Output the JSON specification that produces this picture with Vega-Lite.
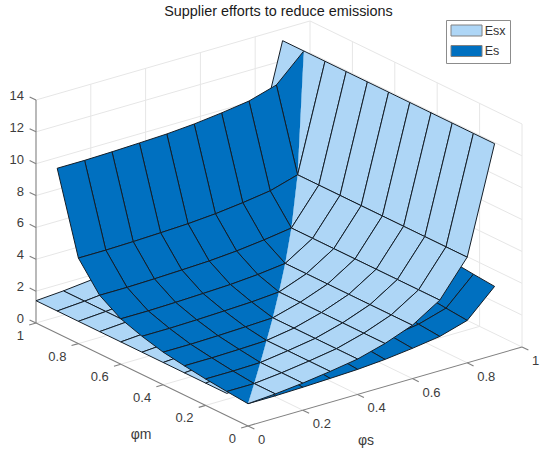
{"$schema":"https://vega.github.io/schema/vega-lite/v6.json","width":550,"height":455,"padding":0,"autosize":{"type":"none"},"background":"white","view":{"stroke":null},"title":{"text":"Supplier efforts to reduce emissions","anchor":"middle","frame":"group","offset":0,"dy":30,"dx":3.5,"baseline":"alphabetic","font":"Liberation Sans","fontSize":14.4,"fontWeight":"normal","color":"#1a1a1a"},"config":{"text":{"font":"Liberation Sans","fontSize":13,"color":"#3c3c3c"}},"encoding":{"x":{"field":"px","type":"quantitative","axis":null,"scale":{"domain":[0,550],"range":[0,550],"nice":false,"zero":false}},"y":{"field":"py","type":"quantitative","axis":null,"scale":{"domain":[0,455],"range":[0,455],"nice":false,"zero":false}}},"datasets":{"lines":[{"k":"g","s":[0,1],"m":[1,1],"z":[2,2]},{"k":"g","s":[0,1],"m":[1,1],"z":[4,4]},{"k":"g","s":[0,1],"m":[1,1],"z":[6,6]},{"k":"g","s":[0,1],"m":[1,1],"z":[8,8]},{"k":"g","s":[0,1],"m":[1,1],"z":[10,10]},{"k":"g","s":[0,1],"m":[1,1],"z":[12,12]},{"k":"g","s":[0,1],"m":[1,1],"z":[14,14]},{"k":"g","s":[0,1],"m":[1,1],"z":[0,0]},{"k":"g","s":[1,1],"m":[0,1],"z":[0,0]},{"k":"g","s":[1,1],"m":[0,1],"z":[2,2]},{"k":"g","s":[1,1],"m":[0,1],"z":[4,4]},{"k":"g","s":[1,1],"m":[0,1],"z":[6,6]},{"k":"g","s":[1,1],"m":[0,1],"z":[8,8]},{"k":"g","s":[1,1],"m":[0,1],"z":[10,10]},{"k":"g","s":[1,1],"m":[0,1],"z":[12,12]},{"k":"g","s":[1,1],"m":[0,1],"z":[14,14]},{"k":"g","s":[0.2,0.2],"m":[1,1],"z":[0,14]},{"k":"g","s":[0.4,0.4],"m":[1,1],"z":[0,14]},{"k":"g","s":[0.6,0.6],"m":[1,1],"z":[0,14]},{"k":"g","s":[0.8,0.8],"m":[1,1],"z":[0,14]},{"k":"g","s":[1,1],"m":[1,1],"z":[0,14]},{"k":"g","s":[1,1],"m":[0.8,0.8],"z":[0,14]},{"k":"g","s":[1,1],"m":[0.6,0.6],"z":[0,14]},{"k":"g","s":[1,1],"m":[0.4,0.4],"z":[0,14]},{"k":"g","s":[1,1],"m":[0.2,0.2],"z":[0,14]},{"k":"g","s":[1,1],"m":[0,0],"z":[0,14]},{"k":"g","s":[0.2,0.2],"m":[0,1],"z":[0,0]},{"k":"g","s":[0.4,0.4],"m":[0,1],"z":[0,0]},{"k":"g","s":[0.6,0.6],"m":[0,1],"z":[0,0]},{"k":"g","s":[0.8,0.8],"m":[0,1],"z":[0,0]},{"k":"g","s":[0,1],"m":[0.2,0.2],"z":[0,0]},{"k":"g","s":[0,1],"m":[0.4,0.4],"z":[0,0]},{"k":"g","s":[0,1],"m":[0.6,0.6],"z":[0,0]},{"k":"g","s":[0,1],"m":[0.8,0.8],"z":[0,0]},{"k":"a","s":[0,0],"m":[1,1],"z":[0,14]},{"k":"a","s":[0,0],"m":[0,1],"z":[0,0]},{"k":"a","s":[0,1],"m":[0,0],"z":[0,0]},{"k":"a","s":[0,0],"m":[1,1.03],"z":[0,0]},{"k":"a","s":[0,0],"m":[1,1.03],"z":[2,2]},{"k":"a","s":[0,0],"m":[1,1.03],"z":[4,4]},{"k":"a","s":[0,0],"m":[1,1.03],"z":[6,6]},{"k":"a","s":[0,0],"m":[1,1.03],"z":[8,8]},{"k":"a","s":[0,0],"m":[1,1.03],"z":[10,10]},{"k":"a","s":[0,0],"m":[1,1.03],"z":[12,12]},{"k":"a","s":[0,0],"m":[1,1.03],"z":[14,14]},{"k":"a","s":[0,-0.025],"m":[0,0],"z":[0,0]},{"k":"a","s":[0,-0.025],"m":[0.2,0.2],"z":[0,0]},{"k":"a","s":[0,-0.025],"m":[0.4,0.4],"z":[0,0]},{"k":"a","s":[0,-0.025],"m":[0.6,0.6],"z":[0,0]},{"k":"a","s":[0,-0.025],"m":[0.8,0.8],"z":[0,0]},{"k":"a","s":[0,-0.025],"m":[1,1],"z":[0,0]},{"k":"a","s":[0,0],"m":[0,-0.03],"z":[0,0]},{"k":"a","s":[0.2,0.2],"m":[0,-0.03],"z":[0,0]},{"k":"a","s":[0.4,0.4],"m":[0,-0.03],"z":[0,0]},{"k":"a","s":[0.6,0.6],"m":[0,-0.03],"z":[0,0]},{"k":"a","s":[0.8,0.8],"m":[0,-0.03],"z":[0,0]},{"k":"a","s":[1,1],"m":[0,-0.03],"z":[0,0]}],"labels":[{"k":"z","t":"0","s":0,"m":1,"z":0},{"k":"z","t":"2","s":0,"m":1,"z":2},{"k":"z","t":"4","s":0,"m":1,"z":4},{"k":"z","t":"6","s":0,"m":1,"z":6},{"k":"z","t":"8","s":0,"m":1,"z":8},{"k":"z","t":"10","s":0,"m":1,"z":10},{"k":"z","t":"12","s":0,"m":1,"z":12},{"k":"z","t":"14","s":0,"m":1,"z":14},{"k":"m","t":"0","s":0,"m":0,"z":0},{"k":"m","t":"0.2","s":0,"m":0.2,"z":0},{"k":"m","t":"0.4","s":0,"m":0.4,"z":0},{"k":"m","t":"0.6","s":0,"m":0.6,"z":0},{"k":"m","t":"0.8","s":0,"m":0.8,"z":0},{"k":"m","t":"1","s":0,"m":1,"z":0},{"k":"s","t":"0","s":0,"m":0,"z":0},{"k":"s","t":"0.2","s":0.2,"m":0,"z":0},{"k":"s","t":"0.4","s":0.4,"m":0,"z":0},{"k":"s","t":"0.6","s":0.6,"m":0,"z":0},{"k":"s","t":"0.8","s":0.8,"m":0,"z":0},{"k":"s","t":"1","s":1,"m":0,"z":0},{"k":"tm","t":"φm","s":0,"m":0.5,"z":0},{"k":"ts","t":"φs","s":0.5,"m":0,"z":0}],"cells":[
{"f":"Esx","s":0.8,"m":0.9,"z":[6.63,13.26,13.26,6.63]},
{"f":"Es","s":0.8,"m":0.8,"t":"d","z":[6.63,11.62,13.26]},{"f":"Es","s":0.8,"m":0.8,"t":"l","z":[6.63,8.27,13.26]},{"f":"Esx","s":0.8,"m":0.8,"t":"l","z":[6.63,13.26,13.26]},{"f":"Esx","s":0.7,"m":0.9,"z":[4.43,6.63,6.63,4.43]},
{"f":"Es","s":0.8,"m":0.7,"z":[4.94,6.58,8.27,6.63]},{"f":"Esx","s":0.8,"m":0.7,"z":[6.63,13.26,13.26,6.63]},{"f":"Esx","s":0.7,"m":0.8,"z":[4.43,6.63,6.63,4.43]},{"f":"Es","s":0.7,"m":0.8,"z":[6.12,6.63,11.62,11.11]},{"f":"Esx","s":0.6,"m":0.9,"z":[3.35,4.43,4.43,3.35]},
{"f":"Es","s":0.8,"m":0.6,"z":[4.11,5.75,6.58,4.94]},{"f":"Esx","s":0.8,"m":0.6,"z":[6.63,13.26,13.26,6.63]},{"f":"Es","s":0.7,"m":0.7,"t":"d","z":[4.43,6.12,6.63]},{"f":"Es","s":0.7,"m":0.7,"t":"l","z":[4.43,4.94,6.63]},{"f":"Esx","s":0.7,"m":0.7,"t":"l","z":[4.43,6.63,6.63]},{"f":"Esx","s":0.6,"m":0.8,"z":[3.35,4.43,4.43,3.35]},{"f":"Es","s":0.6,"m":0.8,"z":[5.87,6.12,11.11,10.86]},{"f":"Esx","s":0.5,"m":0.9,"z":[2.7,3.35,3.35,2.7]},
{"f":"Es","s":0.8,"m":0.5,"z":[3.66,5.3,5.75,4.11]},{"f":"Esx","s":0.8,"m":0.5,"z":[6.63,13.26,13.26,6.63]},{"f":"Es","s":0.7,"m":0.6,"z":[3.6,4.11,4.94,4.43]},{"f":"Esx","s":0.7,"m":0.6,"z":[4.43,6.63,6.63,4.43]},{"f":"Esx","s":0.6,"m":0.7,"z":[3.35,4.43,4.43,3.35]},{"f":"Es","s":0.6,"m":0.7,"z":[4.18,4.43,6.12,5.87]},{"f":"Esx","s":0.5,"m":0.8,"z":[2.7,3.35,3.35,2.7]},{"f":"Es","s":0.5,"m":0.8,"z":[5.67,5.87,10.86,10.66]},{"f":"Esx","s":0.4,"m":0.9,"z":[2.22,2.7,2.7,2.22]},
{"f":"Es","s":0.8,"m":0.4,"z":[3.31,4.95,5.3,3.66]},{"f":"Esx","s":0.8,"m":0.4,"z":[6.63,13.26,13.26,6.63]},{"f":"Es","s":0.7,"m":0.5,"z":[3.15,3.66,4.11,3.6]},{"f":"Esx","s":0.7,"m":0.5,"z":[4.43,6.63,6.63,4.43]},{"f":"Es","s":0.6,"m":0.6,"t":"d","z":[3.35,4.18,4.43]},{"f":"Es","s":0.6,"m":0.6,"t":"l","z":[3.35,3.6,4.43]},{"f":"Esx","s":0.6,"m":0.6,"t":"l","z":[3.35,4.43,4.43]},{"f":"Esx","s":0.5,"m":0.7,"z":[2.7,3.35,3.35,2.7]},{"f":"Es","s":0.5,"m":0.7,"z":[3.98,4.18,5.87,5.67]},{"f":"Esx","s":0.4,"m":0.8,"z":[2.22,2.7,2.7,2.22]},{"f":"Es","s":0.4,"m":0.8,"z":[5.54,5.67,10.66,10.53]},{"f":"Esx","s":0.3,"m":0.9,"z":[1.94,2.22,2.22,1.94]},
{"f":"Es","s":0.8,"m":0.3,"z":[3.1,4.74,4.95,3.31]},{"f":"Esx","s":0.8,"m":0.3,"z":[6.63,13.26,13.26,6.63]},{"f":"Es","s":0.7,"m":0.4,"z":[2.8,3.31,3.66,3.15]},{"f":"Esx","s":0.7,"m":0.4,"z":[4.43,6.63,6.63,4.43]},{"f":"Es","s":0.6,"m":0.5,"z":[2.9,3.15,3.6,3.35]},{"f":"Esx","s":0.6,"m":0.5,"z":[3.35,4.43,4.43,3.35]},{"f":"Esx","s":0.5,"m":0.6,"z":[2.7,3.35,3.35,2.7]},{"f":"Es","s":0.5,"m":0.6,"z":[3.15,3.35,4.18,3.98]},{"f":"Esx","s":0.4,"m":0.7,"z":[2.22,2.7,2.7,2.22]},{"f":"Es","s":0.4,"m":0.7,"z":[3.85,3.98,5.67,5.54]},{"f":"Esx","s":0.3,"m":0.8,"z":[1.94,2.22,2.22,1.94]},{"f":"Es","s":0.3,"m":0.8,"z":[5.47,5.54,10.53,10.46]},{"f":"Esx","s":0.2,"m":0.9,"z":[1.7,1.94,1.94,1.7]},
{"f":"Es","s":0.8,"m":0.2,"z":[2.92,4.56,4.74,3.1]},{"f":"Esx","s":0.8,"m":0.2,"z":[6.63,13.26,13.26,6.63]},{"f":"Es","s":0.7,"m":0.3,"z":[2.59,3.1,3.31,2.8]},{"f":"Esx","s":0.7,"m":0.3,"z":[4.43,6.63,6.63,4.43]},{"f":"Es","s":0.6,"m":0.4,"z":[2.55,2.8,3.15,2.9]},{"f":"Esx","s":0.6,"m":0.4,"z":[3.35,4.43,4.43,3.35]},{"f":"Es","s":0.5,"m":0.5,"t":"d","z":[2.7,3.15,3.35]},{"f":"Es","s":0.5,"m":0.5,"t":"l","z":[2.7,2.9,3.35]},{"f":"Esx","s":0.5,"m":0.5,"t":"l","z":[2.7,3.35,3.35]},{"f":"Esx","s":0.4,"m":0.6,"z":[2.22,2.7,2.7,2.22]},{"f":"Es","s":0.4,"m":0.6,"z":[3.02,3.15,3.98,3.85]},{"f":"Esx","s":0.3,"m":0.7,"z":[1.94,2.22,2.22,1.94]},{"f":"Es","s":0.3,"m":0.7,"z":[3.78,3.85,5.54,5.47]},{"f":"Esx","s":0.2,"m":0.8,"z":[1.7,1.94,1.94,1.7]},{"f":"Es","s":0.2,"m":0.8,"z":[5.41,5.47,10.46,10.4]},{"f":"Esx","s":0.1,"m":0.9,"z":[1.52,1.7,1.7,1.52]},
{"f":"Es","s":0.8,"m":0.1,"z":[2.78,4.42,4.56,2.92]},{"f":"Esx","s":0.8,"m":0.1,"z":[6.63,13.26,13.26,6.63]},{"f":"Es","s":0.7,"m":0.2,"z":[2.41,2.92,3.1,2.59]},{"f":"Esx","s":0.7,"m":0.2,"z":[4.43,6.63,6.63,4.43]},{"f":"Es","s":0.6,"m":0.3,"z":[2.34,2.59,2.8,2.55]},{"f":"Esx","s":0.6,"m":0.3,"z":[3.35,4.43,4.43,3.35]},{"f":"Es","s":0.5,"m":0.4,"z":[2.35,2.55,2.9,2.7]},{"f":"Esx","s":0.5,"m":0.4,"z":[2.7,3.35,3.35,2.7]},{"f":"Esx","s":0.4,"m":0.5,"z":[2.22,2.7,2.7,2.22]},{"f":"Es","s":0.4,"m":0.5,"z":[2.57,2.7,3.15,3.02]},{"f":"Esx","s":0.3,"m":0.6,"z":[1.94,2.22,2.22,1.94]},{"f":"Es","s":0.3,"m":0.6,"z":[2.95,3.02,3.85,3.78]},{"f":"Esx","s":0.2,"m":0.7,"z":[1.7,1.94,1.94,1.7]},{"f":"Es","s":0.2,"m":0.7,"z":[3.72,3.78,5.47,5.41]},{"f":"Esx","s":0.1,"m":0.8,"z":[1.52,1.7,1.7,1.52]},{"f":"Es","s":0.1,"m":0.8,"z":[5.37,5.41,10.4,10.36]},{"f":"Esx","s":0,"m":0.9,"z":[1.4,1.52,1.52,1.4]},
{"f":"Es","s":0.8,"m":0,"z":[2.66,4.3,4.42,2.78]},{"f":"Esx","s":0.8,"m":0,"z":[6.63,13.26,13.26,6.63]},{"f":"Es","s":0.7,"m":0.1,"z":[2.27,2.78,2.92,2.41]},{"f":"Esx","s":0.7,"m":0.1,"z":[4.43,6.63,6.63,4.43]},{"f":"Es","s":0.6,"m":0.2,"z":[2.16,2.41,2.59,2.34]},{"f":"Esx","s":0.6,"m":0.2,"z":[3.35,4.43,4.43,3.35]},{"f":"Es","s":0.5,"m":0.3,"z":[2.14,2.34,2.55,2.35]},{"f":"Esx","s":0.5,"m":0.3,"z":[2.7,3.35,3.35,2.7]},{"f":"Es","s":0.4,"m":0.4,"t":"d","z":[2.22,2.57,2.7]},{"f":"Es","s":0.4,"m":0.4,"t":"l","z":[2.22,2.35,2.7]},{"f":"Esx","s":0.4,"m":0.4,"t":"l","z":[2.22,2.7,2.7]},{"f":"Esx","s":0.3,"m":0.5,"z":[1.94,2.22,2.22,1.94]},{"f":"Es","s":0.3,"m":0.5,"z":[2.5,2.57,3.02,2.95]},{"f":"Esx","s":0.2,"m":0.6,"z":[1.7,1.94,1.94,1.7]},{"f":"Es","s":0.2,"m":0.6,"z":[2.89,2.95,3.78,3.72]},{"f":"Esx","s":0.1,"m":0.7,"z":[1.52,1.7,1.7,1.52]},{"f":"Es","s":0.1,"m":0.7,"z":[3.68,3.72,5.41,5.37]},{"f":"Esx","s":0,"m":0.8,"z":[1.4,1.52,1.52,1.4]},{"f":"Es","s":0,"m":0.8,"z":[5.37,5.37,10.36,10.36]},
{"f":"Es","s":0.7,"m":0,"z":[2.15,2.66,2.78,2.27]},{"f":"Esx","s":0.7,"m":0,"z":[4.43,6.63,6.63,4.43]},{"f":"Es","s":0.6,"m":0.1,"z":[2.02,2.27,2.41,2.16]},{"f":"Esx","s":0.6,"m":0.1,"z":[3.35,4.43,4.43,3.35]},{"f":"Es","s":0.5,"m":0.2,"z":[1.96,2.16,2.34,2.14]},{"f":"Esx","s":0.5,"m":0.2,"z":[2.7,3.35,3.35,2.7]},{"f":"Es","s":0.4,"m":0.3,"z":[2.01,2.14,2.35,2.22]},{"f":"Esx","s":0.4,"m":0.3,"z":[2.22,2.7,2.7,2.22]},{"f":"Esx","s":0.3,"m":0.4,"z":[1.94,2.22,2.22,1.94]},{"f":"Es","s":0.3,"m":0.4,"z":[2.15,2.22,2.57,2.5]},{"f":"Esx","s":0.2,"m":0.5,"z":[1.7,1.94,1.94,1.7]},{"f":"Es","s":0.2,"m":0.5,"z":[2.44,2.5,2.95,2.89]},{"f":"Esx","s":0.1,"m":0.6,"z":[1.52,1.7,1.7,1.52]},{"f":"Es","s":0.1,"m":0.6,"z":[2.85,2.89,3.72,3.68]},{"f":"Esx","s":0,"m":0.7,"z":[1.4,1.52,1.52,1.4]},{"f":"Es","s":0,"m":0.7,"z":[3.68,3.68,5.37,5.37]},
{"f":"Es","s":0.6,"m":0,"z":[1.9,2.15,2.27,2.02]},{"f":"Esx","s":0.6,"m":0,"z":[3.35,4.43,4.43,3.35]},{"f":"Es","s":0.5,"m":0.1,"z":[1.82,2.02,2.16,1.96]},{"f":"Esx","s":0.5,"m":0.1,"z":[2.7,3.35,3.35,2.7]},{"f":"Es","s":0.4,"m":0.2,"z":[1.83,1.96,2.14,2.01]},{"f":"Esx","s":0.4,"m":0.2,"z":[2.22,2.7,2.7,2.22]},{"f":"Es","s":0.3,"m":0.3,"t":"d","z":[1.94,2.15,2.22]},{"f":"Es","s":0.3,"m":0.3,"t":"l","z":[1.94,2.01,2.22]},{"f":"Esx","s":0.3,"m":0.3,"t":"l","z":[1.94,2.22,2.22]},{"f":"Esx","s":0.2,"m":0.4,"z":[1.7,1.94,1.94,1.7]},{"f":"Es","s":0.2,"m":0.4,"z":[2.09,2.15,2.5,2.44]},{"f":"Esx","s":0.1,"m":0.5,"z":[1.52,1.7,1.7,1.52]},{"f":"Es","s":0.1,"m":0.5,"z":[2.4,2.44,2.89,2.85]},{"f":"Esx","s":0,"m":0.6,"z":[1.4,1.52,1.52,1.4]},{"f":"Es","s":0,"m":0.6,"z":[2.85,2.85,3.68,3.68]},
{"f":"Es","s":0.5,"m":0,"z":[1.7,1.9,2.02,1.82]},{"f":"Esx","s":0.5,"m":0,"z":[2.7,3.35,3.35,2.7]},{"f":"Es","s":0.4,"m":0.1,"z":[1.69,1.82,1.96,1.83]},{"f":"Esx","s":0.4,"m":0.1,"z":[2.22,2.7,2.7,2.22]},{"f":"Es","s":0.3,"m":0.2,"z":[1.76,1.83,2.01,1.94]},{"f":"Esx","s":0.3,"m":0.2,"z":[1.94,2.22,2.22,1.94]},{"f":"Esx","s":0.2,"m":0.3,"z":[1.7,1.94,1.94,1.7]},{"f":"Es","s":0.2,"m":0.3,"z":[1.88,1.94,2.15,2.09]},{"f":"Esx","s":0.1,"m":0.4,"z":[1.52,1.7,1.7,1.52]},{"f":"Es","s":0.1,"m":0.4,"z":[2.05,2.09,2.44,2.4]},{"f":"Esx","s":0,"m":0.5,"z":[1.4,1.52,1.52,1.4]},{"f":"Es","s":0,"m":0.5,"z":[2.4,2.4,2.85,2.85]},
{"f":"Es","s":0.4,"m":0,"z":[1.57,1.7,1.82,1.69]},{"f":"Esx","s":0.4,"m":0,"z":[2.22,2.7,2.7,2.22]},{"f":"Es","s":0.3,"m":0.1,"z":[1.62,1.69,1.83,1.76]},{"f":"Esx","s":0.3,"m":0.1,"z":[1.94,2.22,2.22,1.94]},{"f":"Es","s":0.2,"m":0.2,"t":"d","z":[1.7,1.88,1.94]},{"f":"Es","s":0.2,"m":0.2,"t":"l","z":[1.7,1.76,1.94]},{"f":"Esx","s":0.2,"m":0.2,"t":"l","z":[1.7,1.94,1.94]},{"f":"Esx","s":0.1,"m":0.3,"z":[1.52,1.7,1.7,1.52]},{"f":"Es","s":0.1,"m":0.3,"z":[1.84,1.88,2.09,2.05]},{"f":"Esx","s":0,"m":0.4,"z":[1.4,1.52,1.52,1.4]},{"f":"Es","s":0,"m":0.4,"z":[2.05,2.05,2.4,2.4]},
{"f":"Es","s":0.3,"m":0,"z":[1.5,1.57,1.69,1.62]},{"f":"Esx","s":0.3,"m":0,"z":[1.94,2.22,2.22,1.94]},{"f":"Es","s":0.2,"m":0.1,"z":[1.56,1.62,1.76,1.7]},{"f":"Esx","s":0.2,"m":0.1,"z":[1.7,1.94,1.94,1.7]},{"f":"Esx","s":0.1,"m":0.2,"z":[1.52,1.7,1.7,1.52]},{"f":"Es","s":0.1,"m":0.2,"z":[1.66,1.7,1.88,1.84]},{"f":"Esx","s":0,"m":0.3,"z":[1.4,1.52,1.52,1.4]},{"f":"Es","s":0,"m":0.3,"z":[1.84,1.84,2.05,2.05]},
{"f":"Es","s":0.2,"m":0,"z":[1.44,1.5,1.62,1.56]},{"f":"Esx","s":0.2,"m":0,"z":[1.7,1.94,1.94,1.7]},{"f":"Es","s":0.1,"m":0.1,"t":"d","z":[1.52,1.66,1.7]},{"f":"Es","s":0.1,"m":0.1,"t":"l","z":[1.52,1.56,1.7]},{"f":"Esx","s":0.1,"m":0.1,"t":"l","z":[1.52,1.7,1.7]},{"f":"Esx","s":0,"m":0.2,"z":[1.4,1.52,1.52,1.4]},{"f":"Es","s":0,"m":0.2,"z":[1.66,1.66,1.84,1.84]},
{"f":"Es","s":0.1,"m":0,"z":[1.4,1.44,1.56,1.52]},{"f":"Esx","s":0.1,"m":0,"z":[1.52,1.7,1.7,1.52]},{"f":"Esx","s":0,"m":0.1,"z":[1.4,1.52,1.52,1.4]},{"f":"Es","s":0,"m":0.1,"z":[1.52,1.52,1.66,1.66]},
{"f":"Es","s":0,"m":0,"t":"d","z":[1.4,1.52,1.52]},{"f":"Es","s":0,"m":0,"t":"l","z":[1.4,1.4,1.52]},{"f":"Esx","s":0,"m":0,"t":"l","z":[1.4,1.52,1.52]}
]},"layer":[
{"data":{"name":"lines"},"transform":[{"window":[{"op":"row_number","as":"id"}]},{"flatten":["s","m","z"]},{"calculate":"248+274*datum.s-212*datum.m","as":"px"},{"calculate":"426-79*datum.s-103*datum.m-15.93*datum.z","as":"py"},{"filter":"datum.k=='g'"}],"mark":{"type":"line","order":false,"stroke":"#e6e6e6","strokeWidth":1},"encoding":{"detail":{"field":"id"}}},
{"data":{"name":"lines"},"transform":[{"window":[{"op":"row_number","as":"id"}]},{"flatten":["s","m","z"]},{"calculate":"248+274*datum.s-212*datum.m","as":"px"},{"calculate":"426-79*datum.s-103*datum.m-15.93*datum.z","as":"py"},{"filter":"datum.k=='a'"}],"mark":{"type":"line","order":false,"stroke":"#808080","strokeWidth":1.1},"encoding":{"detail":{"field":"id"}}},
{"data":{"name":"cells"},"transform":[{"window":[{"op":"row_number","as":"id"}]},{"calculate":"datum.t=='d'?[0,0,1]:datum.t=='l'?[0,1,1]:[0,1,1,0,0]","as":"ds"},{"calculate":"datum.t=='d'?[0,1,1]:datum.t=='l'?[0,0,1]:[0,0,1,1,0]","as":"dm"},{"calculate":"datum.t?[0,1,2]:[0,1,2,3,0]","as":"i"},{"flatten":["ds","dm","i"]},{"calculate":"248+274*(datum.s+0.1*datum.ds)-212*(datum.m+0.1*datum.dm)","as":"px"},{"calculate":"426-79*(datum.s+0.1*datum.ds)-103*(datum.m+0.1*datum.dm)-15.93*datum.z[datum.i]","as":"py"}],"mark":{"type":"line","order":false,"stroke":"#141e28","strokeWidth":1,"strokeJoin":"round"},"encoding":{"detail":{"field":"id"},"fill":{"field":"f","type":"nominal","scale":{"domain":["Esx","Es"],"range":["#AED6F6","#0070C0"]},"legend":{"title":null,"orient":"none","legendX":446,"legendY":20,"symbolType":"M-1,-1H4.64V1H-1Z","symbolSize":121,"symbolStrokeColor":"#808080","symbolStrokeWidth":1,"strokeColor":"#8c8c8c","padding":4.25,"labelFont":"Liberation Sans","labelFontSize":12.5,"labelColor":"#333333","labelOffset":22,"rowPadding":4.5}}}},
{"data":{"name":"labels"},"transform":[{"calculate":"248+274*datum.s-212*datum.m","as":"px"},{"calculate":"426-79*datum.s-103*datum.m-15.93*datum.z","as":"py"},{"filter":"datum.k=='z'"}],"mark":{"type":"text","align":"right","baseline":"middle","dx":-12,"dy":-4},"encoding":{"text":{"field":"t"}}},
{"data":{"name":"labels"},"transform":[{"calculate":"248+274*datum.s-212*datum.m","as":"px"},{"calculate":"426-79*datum.s-103*datum.m-15.93*datum.z","as":"py"},{"filter":"datum.k=='m'"}],"mark":{"type":"text","align":"right","baseline":"middle","dx":-12,"dy":13},"encoding":{"text":{"field":"t"}}},
{"data":{"name":"labels"},"transform":[{"calculate":"248+274*datum.s-212*datum.m","as":"px"},{"calculate":"426-79*datum.s-103*datum.m-15.93*datum.z","as":"py"},{"filter":"datum.k=='s'"}],"mark":{"type":"text","align":"left","baseline":"middle","dx":10,"dy":14},"encoding":{"text":{"field":"t"}}},
{"data":{"name":"labels"},"transform":[{"calculate":"248+274*datum.s-212*datum.m","as":"px"},{"calculate":"426-79*datum.s-103*datum.m-15.93*datum.z","as":"py"},{"filter":"datum.k=='tm'"}],"mark":{"type":"text","align":"center","baseline":"middle","dx":-1,"dy":60,"fontSize":14},"encoding":{"text":{"field":"t"}}},
{"data":{"name":"labels"},"transform":[{"calculate":"248+274*datum.s-212*datum.m","as":"px"},{"calculate":"426-79*datum.s-103*datum.m-15.93*datum.z","as":"py"},{"filter":"datum.k=='ts'"}],"mark":{"type":"text","align":"center","baseline":"middle","dx":-19,"dy":54,"fontSize":14},"encoding":{"text":{"field":"t"}}}
]}
